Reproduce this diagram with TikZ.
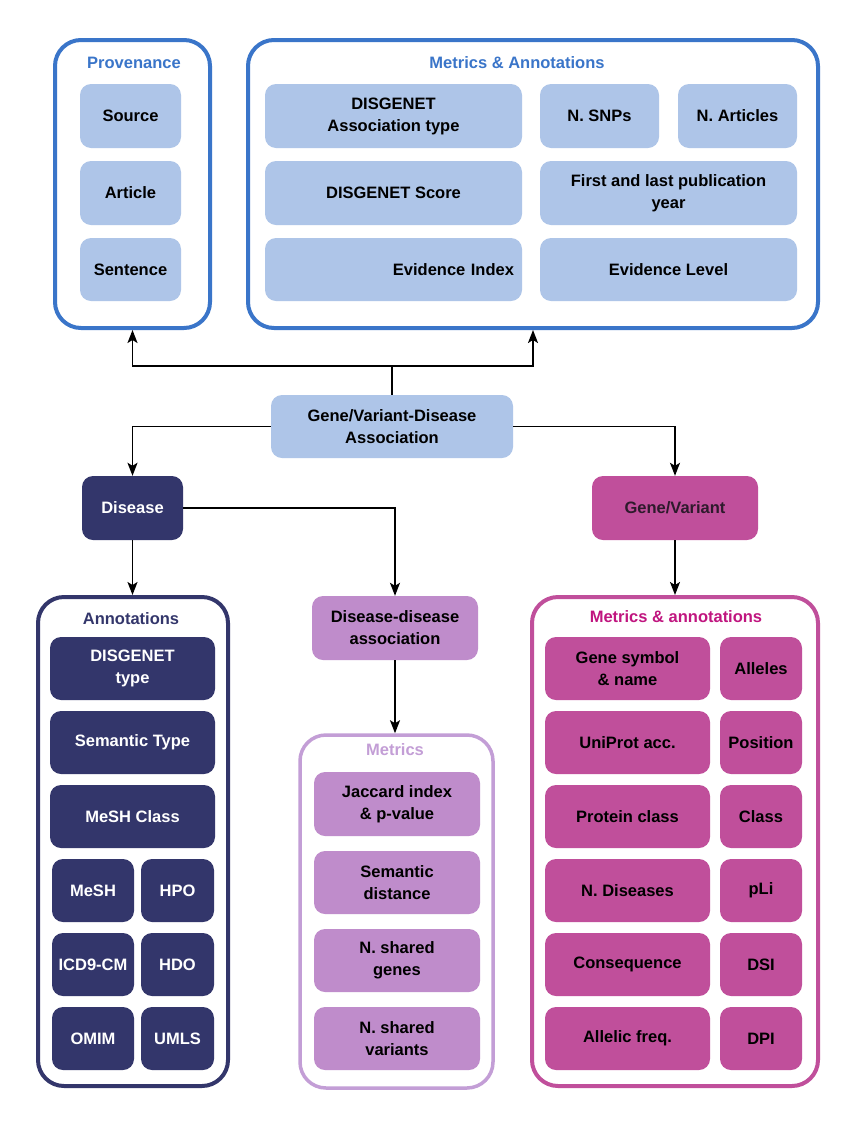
\documentclass[tikz,border=0pt]{standalone}
\usepackage{fontspec}
\setmainfont{Liberation Sans}
\usetikzlibrary{arrows.meta}
\definecolor{lblue}{HTML}{AEC5E8}
\definecolor{cblue}{HTML}{3A75C9}
\definecolor{navy}{HTML}{33366B}
\definecolor{lav}{HTML}{BF8CCB}
\definecolor{lavb}{HTML}{C39ED6}
\definecolor{mag}{HTML}{C04F9B}
\definecolor{magt}{HTML}{C0157F}
\definecolor{gvtext}{HTML}{2E1A2C}
\tikzset{
  container/.style={draw, line width=4pt, rounded corners=26pt, fill=white, inner sep=0pt},
  item/.style={rounded corners=11pt, inner sep=0pt, align=center,
    font=\fontsize{16.5}{22}\selectfont\bfseries},
  bluebox/.style={item, fill=lblue, text=black},
  navybox/.style={item, fill=navy, text=white},
  lavbox/.style={item, fill=lav, text=black},
  magbox/.style={item, fill=mag, text=black},
  title/.style={font=\fontsize{16.5}{20}\selectfont\bfseries},
  arr/.style={draw, line width=1.6pt, -{Stealth[length=13pt,width=10pt,inset=3pt]}}
}
\begin{document}
\begin{tikzpicture}[x=1pt,y=-1pt]
\path[use as bounding box, fill=white] (0,0) rectangle (855,1125);

% Provenance
\node[container, draw=cblue, minimum width=155pt, minimum height=288pt] (prov) at (132.5,184) {};
\node[title, text=cblue] (provt) at (134,63) {Provenance};
\node[bluebox, minimum width=101pt, minimum height=64pt] (source) at (130.5,116) {Source};
\node[bluebox, minimum width=101pt, minimum height=64pt] (article) at (130.5,193) {Article};
\node[bluebox, minimum width=101pt, minimum height=63pt] (sentence) at (130.5,269.5) {Sentence};

% Metrics & Annotations
\node[container, draw=cblue, minimum width=570pt, minimum height=288pt] (metr) at (533,184) {};
\node[title, text=cblue] (metrt) at (517,63) {Metrics \& Annotations};
\node[bluebox, minimum width=257pt, minimum height=64pt] (assoc) at (393.5,116) {DISGENET\\Association type};
\node[bluebox, minimum width=119pt, minimum height=64pt] (nsnp) at (599.5,116) {N. SNPs};
\node[bluebox, minimum width=119pt, minimum height=64pt] (nart) at (737.5,116) {N. Articles};
\node[bluebox, minimum width=257pt, minimum height=64pt] (score) at (393.5,193) {DISGENET Score};
\node[bluebox, minimum width=257pt, minimum height=64pt] (first) at (668.5,193) {First and last publication\\year};
\node[bluebox, minimum width=257pt, minimum height=63pt, text width=241pt, align=right] (evidx) at (393.5,269.5) {Evidence Index};
\node[bluebox, minimum width=257pt, minimum height=63pt] (evlev) at (668.5,269.5) {Evidence Level};

% Central
\node[bluebox, minimum width=242pt, minimum height=63pt] (gvda) at (392,426.5) {Gene/Variant-Disease\\Association};
\node[navybox, minimum width=101pt, minimum height=64pt] (disease) at (132.5,508) {Disease};
\node[magbox, text=gvtext, minimum width=166pt, minimum height=64pt] (genevar) at (675,508) {Gene/Variant};
\node[lavbox, minimum width=166pt, minimum height=64pt] (dda) at (395,628) {Disease-disease\\association};

% Annotations container
\node[container, draw=navy, minimum width=190pt, minimum height=489pt] (annot) at (133,841.5) {};
\node[title, text=navy] (annott) at (131,619) {Annotations};
\node[navybox, minimum width=165pt, minimum height=63pt] (dtype) at (132.5,668.5) {DISGENET\\type};
\node[navybox, minimum width=165pt, minimum height=63pt] (semtype) at (132.5,742.5) {Semantic Type};
\node[navybox, minimum width=165pt, minimum height=63pt] (meshclass) at (132.5,816.5) {MeSH Class};
\node[navybox, minimum width=82pt, minimum height=63pt] (mesh) at (93,890.5) {MeSH};
\node[navybox, minimum width=73pt, minimum height=63pt] (hpo) at (177.5,890.5) {HPO};
\node[navybox, minimum width=82pt, minimum height=63pt] (icd) at (93,964.5) {ICD9-CM};
\node[navybox, minimum width=73pt, minimum height=63pt] (hdo) at (177.5,964.5) {HDO};
\node[navybox, minimum width=82pt, minimum height=63pt] (omim) at (93,1038.5) {OMIM};
\node[navybox, minimum width=73pt, minimum height=63pt] (umls) at (177.5,1038.5) {UMLS};

% Metrics (purple) container
\node[container, draw=lavb, line width=3.5pt, minimum width=193pt, minimum height=353pt] (purp) at (396.5,911.5) {};
\node[title, text=lavb] (purpt) at (395,750) {Metrics};
\node[lavbox, minimum width=166pt, minimum height=64pt] (jacc) at (397,804) {Jaccard index\\\& p-value};
\node[lavbox, minimum width=166pt, minimum height=63pt] (semdist) at (397,882.5) {Semantic\\distance};
\node[lavbox, minimum width=166pt, minimum height=63pt] (nsg) at (397,960.5) {N. shared\\genes};
\node[lavbox, minimum width=166pt, minimum height=63pt] (nsv) at (397,1038.5) {N. shared\\variants};

% Magenta container
\node[container, draw=mag, minimum width=286pt, minimum height=489pt] (magc) at (675,841.5) {};
\node[title, text=magt] (magct) at (676,617) {Metrics \& annotations};
\node[magbox, minimum width=165pt, minimum height=63pt] (gsym) at (627.5,668.5) {Gene symbol\\\& name};
\node[magbox, minimum width=82pt, minimum height=63pt] (alleles) at (761,668.5) {Alleles};
\node[magbox, minimum width=165pt, minimum height=63pt] (uniprot) at (627.5,742.5) {UniProt acc.};
\node[magbox, minimum width=82pt, minimum height=63pt] (position) at (761,742.5) {Position};
\node[magbox, minimum width=165pt, minimum height=63pt] (pclass) at (627.5,816.5) {Protein class};
\node[magbox, minimum width=82pt, minimum height=63pt] (class) at (761,816.5) {Class};
\node[magbox, minimum width=165pt, minimum height=63pt] (ndis) at (627.5,890.5) {N. Diseases};
\node[magbox, minimum width=82pt, minimum height=63pt] (pli) at (761,890.5) {pLi};
\node[magbox, minimum width=165pt, minimum height=63pt] (conseq) at (627.5,964.5) {Consequence};
\node[magbox, minimum width=82pt, minimum height=63pt] (dsi) at (761,964.5) {DSI};
\node[magbox, minimum width=165pt, minimum height=63pt] (afreq) at (627.5,1038.5) {Allelic freq.};
\node[magbox, minimum width=82pt, minimum height=63pt] (dpi) at (761,1038.5) {DPI};

% Connectors
\coordinate (split) at (392,366);
\draw[line width=1.6pt] (gvda.north) -- (split);
\draw[arr] (split) -| (prov.south);
\draw[arr] (split) -| (metr.south);
\draw[arr] (gvda.west) -| (disease.north);
\draw[arr] (gvda.east) -| (genevar.north);
\draw[arr] (disease.east) -| (dda.north);
\draw[arr] (disease.south) -- (disease.south |- annot.north);
\draw[arr] (genevar.south) -- (genevar.south |- magc.north);
\draw[arr] (dda.south) -- (dda.south |- purp.north);
\end{tikzpicture}
\end{document}
